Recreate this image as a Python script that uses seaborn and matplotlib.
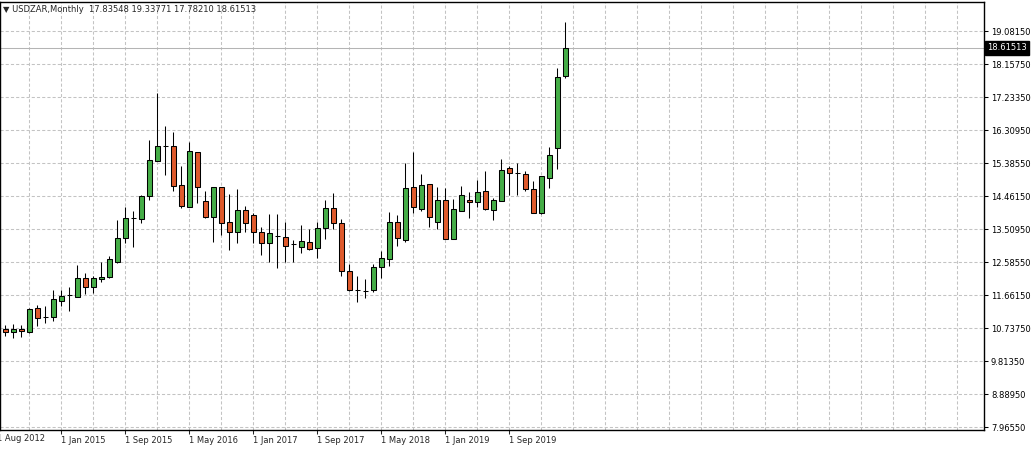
import numpy as np
import pandas as pd
import seaborn as sns
import matplotlib
matplotlib.use("Agg")
from matplotlib import pyplot as plt
from matplotlib import transforms

# monthly USDZAR candles, Jun 2014 .. Apr 2020
opens = [10.725, 10.632, 10.725, 10.649, 11.306, 11.070, 11.070, 11.519, 11.671, 11.632,
         12.148, 11.895, 12.120, 12.176, 12.614, 13.271, 13.827, 13.804, 14.458, 15.449,
         15.870, 15.862, 14.759, 14.158, 15.702, 14.318, 13.877, 14.703, 13.720, 13.456,
         14.065, 13.925, 13.456, 13.131, 13.344, 13.316, 13.103, 13.035, 13.159, 12.990,
         13.552, 14.113, 13.692, 12.361, 11.820, 11.800, 11.820, 12.457, 12.681, 13.720,
         13.223, 14.703, 14.093, 14.787, 13.720, 14.346, 13.243, 14.046, 14.360, 14.298,
         14.599, 14.065, 14.326, 15.236, 15.112, 15.076, 14.655, 13.990, 14.955, 15.797,
         17.83548]
highs = [10.837, 10.865, 10.846, 11.306, 11.399, 11.371, 11.820, 11.820, 11.895, 12.521,
         12.288, 12.213, 12.614, 12.774, 13.785, 14.141, 14.046, 14.486, 16.030, 17.358,
         16.423, 16.263, 15.301, 15.983, 15.702, 14.599, 14.719, 14.703, 14.515, 14.663,
         14.178, 13.990, 13.597, 13.945, 13.953, 13.737, 13.223, 13.644, 13.532, 13.737,
         14.346, 14.551, 13.804, 12.541, 12.213, 12.120, 12.541, 12.914, 14.001, 13.925,
         15.376, 15.702, 15.076, 14.787, 14.703, 14.675, 14.374, 14.739, 14.562, 14.908,
         15.160, 14.394, 15.489, 15.301, 15.393, 15.169, 14.879, 15.020, 15.842, 18.060,
         19.33771]
lows = [10.537, 10.464, 10.509, 10.621, 10.809, 10.902, 10.950, 11.371, 11.230, 11.632,
        11.699, 11.727, 12.053, 12.148, 12.586, 13.147, 13.018, 13.709, 14.346, 15.449,
        15.048, 14.607, 14.113, 14.158, 14.253, 13.832, 13.176, 13.364, 12.943, 13.147,
        13.456, 13.147, 12.802, 12.606, 12.437, 12.600, 12.600, 12.850, 12.943, 12.726,
        13.243, 13.532, 12.221, 11.800, 11.491, 11.604, 11.772, 12.165, 12.502, 13.063,
        13.176, 13.990, 14.046, 13.597, 13.532, 13.243, 13.243, 14.046, 13.849, 14.158,
        14.065, 13.785, 14.326, 14.486, 14.486, 14.599, 13.973, 13.953, 14.675, 15.208,
        17.78210]
closes = [10.632, 10.725, 10.660, 11.286, 11.025, 11.070, 11.567, 11.651, 11.671, 12.148,
          11.895, 12.148, 12.176, 12.681, 13.271, 13.832, 13.827, 14.458, 15.469, 15.862,
          15.870, 14.739, 14.178, 15.722, 14.703, 13.877, 14.703, 13.709, 13.456, 14.065,
          13.709, 13.456, 13.131, 13.411, 13.344, 13.063, 13.103, 13.195, 12.971, 13.552,
          14.113, 13.692, 12.361, 11.820, 11.820, 11.800, 12.457, 12.710, 13.720, 13.271,
          14.675, 14.141, 14.767, 13.860, 14.346, 13.243, 14.085, 14.486, 14.298, 14.562,
          14.085, 14.346, 15.188, 15.112, 15.112, 14.646, 13.990, 15.020, 15.609, 17.790,
          18.61513]

date_labels = ["1 Aug 2012", "1 Jan 2015", "1 Sep 2015", "1 May 2016", "1 Jan 2017",
               "1 Sep 2017", "1 May 2018", "1 Jan 2019", "1 Sep 2019"]
price_labels = ["7.96550", "8.88950", "9.81350", "10.73750", "11.66150", "12.58550",
                "13.50950", "14.46150", "15.38550", "16.30950", "17.23350", "18.15750",
                "19.08150"]
last_price = 18.61513
header = "USDZAR,Monthly  17.83548 19.33771 17.78210 18.61513"

df = pd.DataFrame({"open": opens, "high": highs, "low": lows, "close": closes})
df["idx"] = np.arange(len(df))

UP = "#45ad47"
DOWN = "#df5a2c"
GRID = "#c3c3c3"
FS = 6.0

sns.set_style("white")
plt.rcParams["font.family"] = ["DejaVu Sans"]

W, H = 1036, 449
fig = plt.figure(figsize=(W / 100, H / 100), dpi=100)
fig.patch.set_facecolor("white")
ax = fig.add_axes([0, (H - 430) / H, 984 / W, 428 / H])

# grid
ytick_pos = 7.9655 + np.arange(13) * (11.116 / 12)
ax.set_yticks(ytick_pos)
ax.set_yticklabels(price_labels)
ax.set_xticks(np.arange(7, 64, 8))
ax.set_xticklabels(date_labels[1:])
ax.set_xticks(np.arange(3, 122, 4), minor=True)
ax.grid(which="both", axis="x", color=GRID, ls=(0, (3, 2)), lw=0.75)
ax.grid(which="major", axis="y", color=GRID, ls=(0, (3, 2)), lw=0.75)
ax.set_axisbelow(True)

# candles
ax.vlines(df["idx"], df["low"], df["high"], color="black", lw=0.75, zorder=3)
colors = np.where(df["close"] > df["open"], UP, np.where(df["close"] < df["open"], DOWN, "black"))
bottoms = np.minimum(df["open"], df["close"])
heights = (df["close"] - df["open"]).abs()
ax.bar(df["idx"], heights, bottom=bottoms, width=0.6, color=colors,
       edgecolor="black", linewidth=0.75, zorder=4)

# last price line + tag
ax.axhline(last_price, color="#b4b4b4", lw=0.75, zorder=2)
trans = transforms.blended_transform_factory(ax.transAxes, ax.transData)
ax.text(1.003, last_price, f"{last_price:.5f}", transform=trans, color="white",
        fontsize=FS, va="center", ha="left", clip_on=False,
        bbox=dict(boxstyle="square,pad=0.25", fc="black", ec="black"))

ax.set_xlim(-5.3 / 8, (984 - 5.3) / 8)
ax.set_ylim(19.96024 - 0.028071 * 430, 19.96024 - 0.028071 * 2)

ax.yaxis.tick_right()
ax.tick_params(axis="y", which="major", direction="out", length=3, width=0.75,
               pad=2, labelsize=FS, colors="black", right=True, left=False)
ax.tick_params(axis="x", which="major", direction="out", length=3, width=0.75,
               pad=1.5, labelsize=FS, bottom=True)
ax.tick_params(axis="x", which="minor", length=0)
for lbl in ax.get_xticklabels():
    lbl.set_ha("left")

# the first date label sits just left of the plot
xtrans = transforms.blended_transform_factory(ax.transData, ax.transAxes)
ax.text(-1.05, -0.0105, date_labels[0], transform=xtrans, fontsize=FS,
        ha="left", va="top", clip_on=False)

for side in ["top", "bottom", "left", "right"]:
    ax.spines[side].set_visible(True)
    ax.spines[side].set_color("black")
    ax.spines[side].set_linewidth(1.0)

fig.text(3 / W, 1 - 9 / H, "\u25bc " + header, fontsize=FS, va="center", ha="left")

fig.savefig("out.png", dpi=100, facecolor="white")
